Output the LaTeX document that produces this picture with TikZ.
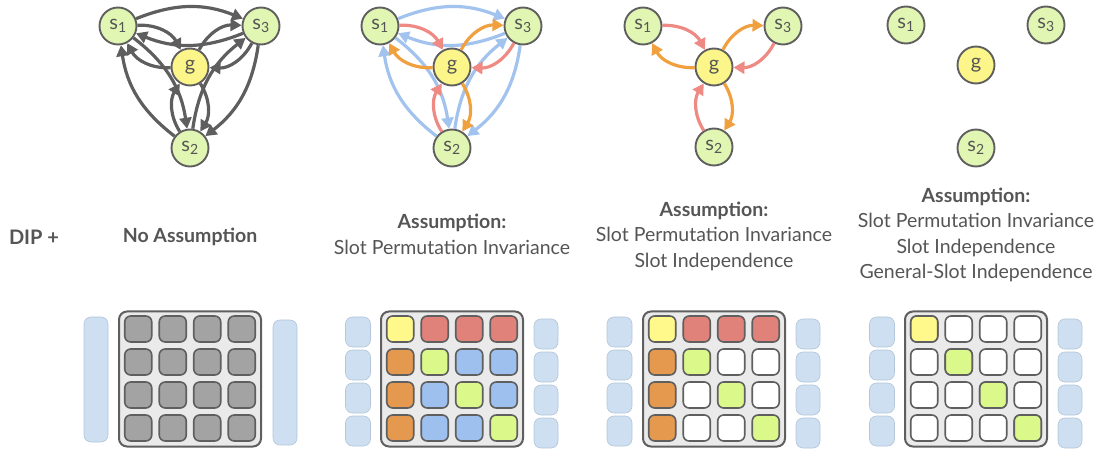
\documentclass[tikz,border=0pt]{standalone}
\usepackage{fontspec}
\setmainfont{Lato}
\usetikzlibrary{arrows.meta}

\definecolor{linegray}{HTML}{5F5F5F}
\definecolor{textgray}{HTML}{555555}
\definecolor{slotfill}{HTML}{E1F6B2}
\definecolor{goalfill}{HTML}{FCF68A}
\definecolor{edgegray}{HTML}{5E5E5E}
\definecolor{edgered}{HTML}{EE8983}
\definecolor{edgeorange}{HTML}{F0A03E}
\definecolor{edgeblue}{HTML}{A2C3EE}
\definecolor{cyellow}{HTML}{FFF98C}
\definecolor{cgreen}{HTML}{DBF88A}
\definecolor{cred}{HTML}{E0817A}
\definecolor{corange}{HTML}{E4994E}
\definecolor{cblue}{HTML}{9DC0EE}
\definecolor{cgray}{HTML}{A3A3A3}
\definecolor{boardfill}{HTML}{EAEAEA}
\definecolor{sidefill}{HTML}{CDDFF0}
\definecolor{sideline}{HTML}{B3C6DA}

\tikzset{
  slot/.style = {circle, draw=linegray, line width=1.9pt, fill=slotfill,
                 minimum size=37pt, inner sep=0pt, text=textgray,
                 font=\fontsize{20}{20}\selectfont},
  goal/.style = {slot, fill=goalfill},
  edge/.style = {line width=3.2pt, -{Triangle[length=11pt,width=12pt]},
                 bend left=22},
  gedge/.style = {edge, bend left=32},
  board/.style = {draw=linegray, line width=2pt, fill=boardfill,
                  rounded corners=8pt, minimum width=142pt,
                  minimum height=135pt, inner sep=0pt},
  cell/.style = {draw=linegray, line width=1.6pt, rounded corners=6pt,
                 minimum width=27pt, minimum height=26pt, inner sep=0pt},
  side/.style = {draw=sideline, line width=0.6pt, fill=sidefill,
                 rounded corners=7pt, minimum width=25pt,
                 minimum height=30pt, inner sep=0pt},
  caption/.style = {text=textgray, align=center,
                    font=\fontsize{19.5}{25.5}\selectfont}
}

\begin{document}
\begin{tikzpicture}[x=1pt, y=1pt]

  \useasboundingbox (0,0) rectangle (1104,-449);

  \node[caption, font=\fontsize{20}{25.5}\selectfont\bfseries] (dip) at (34,-237) {DIP +};

  % A) no assumption
  \begin{scope}[shift={(190,-67)}]
    \node[goal] (gA) at (0,0) {g};
    \node[slot] (s1A) at (-72,41) {s\textsubscript{1}};
    \node[slot] (s3A) at (71,41) {s\textsubscript{3}};
    \node[slot] (s2A) at (0,-81) {s\textsubscript{2}};
    \draw[edge, edgegray] (s1A) to (s3A);
    \draw[edge, edgegray] (s3A) to (s1A);
    \draw[edge, edgegray] (s3A) to (s2A);
    \draw[edge, edgegray] (s2A) to (s3A);
    \draw[edge, edgegray] (s2A) to (s1A);
    \draw[edge, edgegray] (s1A) to (s2A);
    \draw[gedge, edgegray] (s1A) to (gA);
    \draw[gedge, edgegray] (gA) to (s1A);
    \draw[gedge, edgegray] (s3A) to (gA);
    \draw[gedge, edgegray] (gA) to (s3A);
    \draw[gedge, edgegray] (s2A) to (gA);
    \draw[gedge, edgegray] (gA) to (s2A);
  \end{scope}
  \node[caption] (capA) at (190,-237) {\textbf{No Assumption}};
  \begin{scope}[shift={(190,-379)}]
    \node[side, minimum width=24pt, minimum height=125pt] (lA) at (-94,-0.5) {};
    \node[side, minimum width=24pt, minimum height=125pt] (rA) at (95,-3.5) {};
    \node[board] (bA) at (0,0) {};
    \foreach \i in {1,...,4}
      \foreach \j in {1,...,4}
        \node[cell, fill=cgray] (cA\i\j) at (-86.25+34.5*\j, 83-33*\i) {};
  \end{scope}

  % B) slot permutation invariance
  \begin{scope}[shift={(452,-67)}]
    \node[goal] (gB) at (0,0) {g};
    \node[slot] (s1B) at (-72,41) {s\textsubscript{1}};
    \node[slot] (s3B) at (71,41) {s\textsubscript{3}};
    \node[slot] (s2B) at (0,-81) {s\textsubscript{2}};
    \draw[edge, edgeblue] (s1B) to (s3B);
    \draw[edge, edgeblue] (s3B) to (s1B);
    \draw[edge, edgeblue] (s3B) to (s2B);
    \draw[edge, edgeblue] (s2B) to (s3B);
    \draw[edge, edgeblue] (s2B) to (s1B);
    \draw[edge, edgeblue] (s1B) to (s2B);
    \draw[gedge, edgered] (s1B) to (gB);
    \draw[gedge, edgeorange] (gB) to (s1B);
    \draw[gedge, edgered] (s3B) to (gB);
    \draw[gedge, edgeorange] (gB) to (s3B);
    \draw[gedge, edgered] (s2B) to (gB);
    \draw[gedge, edgeorange] (gB) to (s2B);
  \end{scope}
  \node[caption] (capB) at (452,-234.5) {\textbf{Assumption:}\\Slot Permutation Invariance};
  \begin{scope}[shift={(452,-379)}]
    \foreach \i in {1,...,4} {
      \node[side] (lB\i) at (-94, 80-33*\i) {};
      \node[side, minimum width=24pt] (rB\i) at (94, 78-33*\i) {};
    }
    \node[board] (bB) at (0,0) {};
    \foreach \c [count=\j] in {cyellow,cred,cred,cred}
      \node[cell, fill=\c] (cB1\j) at (-86.25+34.5*\j, 50) {};
    \foreach \c [count=\j] in {corange,cgreen,cblue,cblue}
      \node[cell, fill=\c] (cB2\j) at (-86.25+34.5*\j, 17) {};
    \foreach \c [count=\j] in {corange,cblue,cgreen,cblue}
      \node[cell, fill=\c] (cB3\j) at (-86.25+34.5*\j, -16) {};
    \foreach \c [count=\j] in {corange,cblue,cblue,cgreen}
      \node[cell, fill=\c] (cB4\j) at (-86.25+34.5*\j, -49) {};
  \end{scope}

  % C) + slot independence
  \begin{scope}[shift={(714,-67)}]
    \node[goal] (gC) at (0,0) {g};
    \node[slot] (s1C) at (-71,41) {s\textsubscript{1}};
    \node[slot] (s3C) at (69,41) {s\textsubscript{3}};
    \node[slot] (s2C) at (0,-80) {s\textsubscript{2}};
    \draw[gedge, edgered] (s1C) to (gC);
    \draw[gedge, edgeorange] (gC) to (s1C);
    \draw[gedge, edgered] (s3C) to (gC);
    \draw[gedge, edgeorange] (gC) to (s3C);
    \draw[gedge, edgered] (s2C) to (gC);
    \draw[gedge, edgeorange] (gC) to (s2C);
  \end{scope}
  \node[caption] (capC) at (714,-236) {\textbf{Assumption:}\\Slot Permutation Invariance\\Slot Independence};
  \begin{scope}[shift={(714,-379)}]
    \foreach \i in {1,...,4} {
      \node[side] (lC\i) at (-94.5, 80-33*\i) {};
      \node[side, minimum width=24pt] (rC\i) at (94, 78-33*\i) {};
    }
    \node[board] (bC) at (0,0) {};
    \foreach \c [count=\j] in {cyellow,cred,cred,cred}
      \node[cell, fill=\c] (cC1\j) at (-86.25+34.5*\j, 50) {};
    \foreach \c [count=\j] in {corange,cgreen,white,white}
      \node[cell, fill=\c] (cC2\j) at (-86.25+34.5*\j, 17) {};
    \foreach \c [count=\j] in {corange,white,cgreen,white}
      \node[cell, fill=\c] (cC3\j) at (-86.25+34.5*\j, -16) {};
    \foreach \c [count=\j] in {corange,white,white,cgreen}
      \node[cell, fill=\c] (cC4\j) at (-86.25+34.5*\j, -49) {};
  \end{scope}

  % D) + general-slot independence
  \begin{scope}[shift={(976,-65)}]
    \node[goal] (gD) at (0,0) {g};
    \node[slot] (s1D) at (-70,40) {s\textsubscript{1}};
    \node[slot] (s3D) at (70,40) {s\textsubscript{3}};
    \node[slot] (s2D) at (0,-83) {s\textsubscript{2}};
  \end{scope}
  \node[caption] (capD) at (976,-235) {\textbf{Assumption:}\\Slot Permutation Invariance\\Slot Independence\\General-Slot Independence};
  \begin{scope}[shift={(976,-379)}]
    \foreach \i in {1,...,4} {
      \node[side] (lD\i) at (-94, 80-33*\i) {};
      \node[side, minimum width=24pt] (rD\i) at (94, 78-33*\i) {};
    }
    \node[board] (bD) at (0,0) {};
    \foreach \i in {1,...,4}
      \foreach \j in {1,...,4}
        \node[cell, fill=white] (cD\i\j) at (-86.25+34.5*\j, 83-33*\i) {};
    \node[cell, fill=cyellow] at (cD11) {};
    \node[cell, fill=cgreen] at (cD22) {};
    \node[cell, fill=cgreen] at (cD33) {};
    \node[cell, fill=cgreen] at (cD44) {};
  \end{scope}

\end{tikzpicture}
\end{document}
